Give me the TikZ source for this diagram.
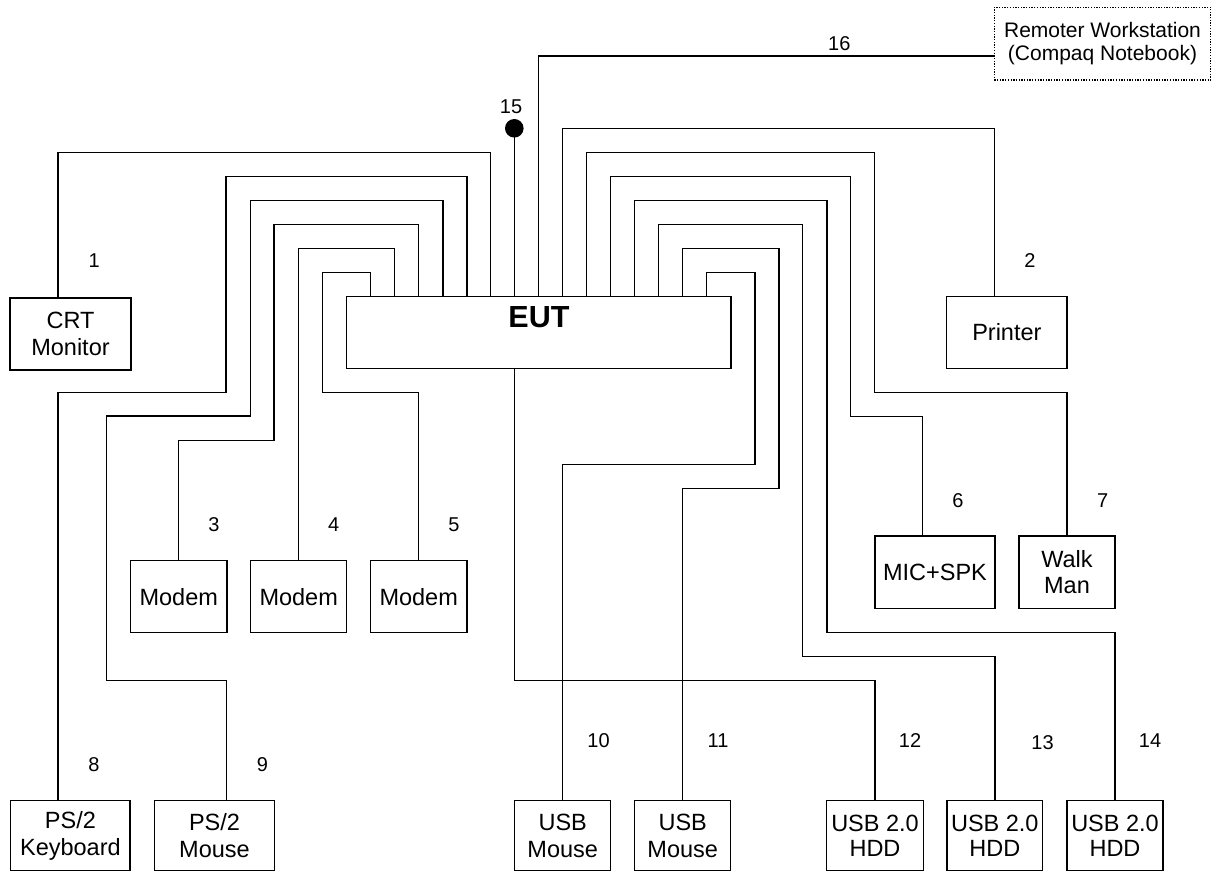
\documentclass[tikz,border=0pt]{standalone}
\usepackage{fontspec}
\setmainfont{Liberation Sans}
\begin{document}
\begin{tikzpicture}[x=1pt,y=-1pt,line width=1.4pt,
  dev/.style={draw,rectangle,inner sep=0pt,align=center,font=\fontsize{23.5}{26.5}\selectfont},
  num/.style={inner sep=0pt,font=\fontsize{20}{22}\selectfont},
  wire/.style={line width=1.4pt}]
\useasboundingbox (0,0) rectangle (1215,872);
% devices
\node[dev,minimum width=384.3pt,minimum height=71.8pt,text height=22pt,text depth=31.4pt,font=\fontsize{30.5}{32}\selectfont\bfseries] (eut) at (538.9,332.4) {EUT};
\node[dev,minimum width=121pt,minimum height=72pt] (crt) at (70.5,334) {CRT\\Monitor};
\node[dev,minimum width=120.3pt,minimum height=71.6pt] (printer) at (1006.85,332.5) {Printer};
\node[dev,minimum width=96.5pt,minimum height=72pt] (modem3) at (178.75,596.7) {Modem};
\node[dev,minimum width=96pt,minimum height=72pt] (modem4) at (298.7,596.7) {Modem};
\node[dev,minimum width=96.4pt,minimum height=72pt] (modem5) at (418.7,596.7) {Modem};
\node[dev,minimum width=120pt,minimum height=72.7pt] (mic) at (935,572.3) {MIC+SPK};
\node[dev,minimum width=96pt,minimum height=72.7pt] (walkman) at (1067,572.3) {Walk\\Man};
\node[dev,minimum width=119.3pt,minimum height=70pt] (kb) at (70.4,835.7) {PS/2\\Keyboard};
\node[dev,minimum width=119.8pt,minimum height=70pt] (ps2mouse) at (214.5,835.7) {PS/2\\Mouse};
\node[dev,minimum width=96pt,minimum height=70pt] (usbm10) at (562.75,835.7) {USB\\Mouse};
\node[dev,minimum width=96pt,minimum height=70pt] (usbm11) at (682.75,835.7) {USB\\Mouse};
\node[dev,minimum width=96.6pt,minimum height=70pt,font=\fontsize{23.5}{25}\selectfont] (hdd12) at (875,835.7) {USB 2.0\\HDD};
\node[dev,minimum width=95.6pt,minimum height=70pt,font=\fontsize{23.5}{25}\selectfont] (hdd13) at (994.8,835.7) {USB 2.0\\HDD};
\node[dev,minimum width=96pt,minimum height=70pt,font=\fontsize{23.5}{25}\selectfont] (hdd14) at (1115,835.7) {USB 2.0\\HDD};
\node[dev,dash pattern=on 1.3pt off 1.4pt,line width=1.3pt,minimum width=216.4pt,minimum height=72.7pt,font=\fontsize{21}{23}\selectfont] (remote) at (1102.5,43.65) {Remoter Workstation\\(Compaq Notebook)};
\node[circle,fill=black,inner sep=0pt,minimum size=18.6pt] (dot15) at (514.3,128.3) {};
% connectors
\draw[wire] (490.7,0 |- eut.north) |- (58,152.7) -- (58,0 |- crt.north);
\draw[wire] (466.8,0 |- eut.north) |- (226,176.7) |- (58,392.3) -- (58,0 |- kb.north);
\draw[wire] (442.8,0 |- eut.north) |- (250.7,200.7) |- (106.4,416) |- (226.6,680.7) -- (226.6,0 |- ps2mouse.north);
\draw[wire] (418.7,0 |- eut.north) |- (274,224.3) |- (178.75,440.7) -- (modem3.north);
\draw[wire] (394.7,0 |- eut.north) |- (298.7,248.3) -- (modem4.north);
\draw[wire] (370.7,0 |- eut.north) |- (322.5,272.7) |- (418.7,392.3) -- (modem5.north);
\draw[wire] (514.3,0 |- eut.north) -- (dot15.center);
\draw[wire] (538.7,0 |- eut.north) |- (remote.west |- 0,56);
\draw[wire] (562.7,0 |- eut.north) |- (994.3,128.7) -- (994.3,0 |- printer.north);
\draw[wire] (586.7,0 |- eut.north) |- (874.7,152.3) |- (1067,392.3) -- (walkman.north);
\draw[wire] (610.7,0 |- eut.north) |- (850.7,176.7) |- (922.6,416.7) -- (922.6,0 |- mic.north);
\draw[wire] (634.7,0 |- eut.north) |- (827,200.7) |- (1115,632.7) -- (hdd14.north);
\draw[wire] (658.7,0 |- eut.north) |- (802.7,224.7) |- (994.8,656.7) -- (hdd13.north);
\draw[wire] (682.7,0 |- eut.north) |- (779,248.5) |- (682.75,488.3) -- (usbm11.north);
\draw[wire] (706.7,0 |- eut.north) |- (755,272.7) |- (562.75,464.3) -- (usbm10.north);
\draw[wire] (514.3,0 |- eut.south) |- (875,680.7) -- (hdd12.north);
% numbers
\node[num] (n1) at (94.3,260.5) {1};
\node[num] (n2) at (1030,260.7) {2};
\node[num] (n3) at (214,525) {3};
\node[num] (n4) at (333.7,525) {4};
\node[num] (n5) at (454,525) {5};
\node[num] (n6) at (958,500.7) {6};
\node[num] (n7) at (1102.6,500.7) {7};
\node[num] (n8) at (94,765) {8};
\node[num] (n9) at (262.5,765) {9};
\node[num] (n10) at (598.6,740.7) {10};
\node[num] (n11) at (718,740.7) {11};
\node[num] (n12) at (910,740.7) {12};
\node[num] (n13) at (1042.6,743) {13};
\node[num] (n14) at (1150,740.7) {14};
\node[num] (n15) at (511,106.7) {15};
\node[num] (n16) at (839.3,44) {16};
\end{tikzpicture}
\end{document}
